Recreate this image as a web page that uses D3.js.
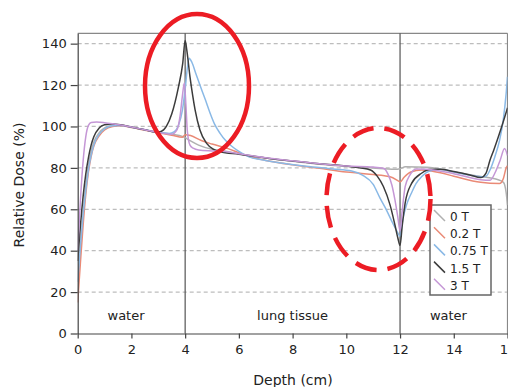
<!DOCTYPE html>
<html>
<head>
<meta charset="utf-8">
<script src="https://cdn.jsdelivr.net/npm/d3@7"></script>
<style>
  body { margin: 0; background: #fff; }
  svg { font-family: "DejaVu Sans", sans-serif; }
</style>
</head>
<body>
<script>
// dose curves, [depth cm, relative dose %]
const dose0T = [[0,20],[0.1,40],[0.2,57],[0.3,71],[0.4,81],[0.5,88],[0.6,92.5],[0.8,97],[1.0,99.3],[1.3,100.5],[1.6,100.6],[2,99.6],[2.5,98.4],[3,97.3],[3.5,96.2],[3.9,95.2],[4.0,94.6],[4.2,93],[4.5,91],[5,89],[5.5,88],[6,86.8],[7,84.8],[8,83.2],[9,81.8],[10,80.8],[11,79.9],[11.8,79.3],[12,79.6],[12.2,80.5],[13,80.3],[14,78],[15,75.8],[15.6,74.5],[15.85,73],[15.95,68],[16,62]];
const dose02T = [[0,15],[0.1,34],[0.2,52],[0.3,67],[0.4,78],[0.5,85.5],[0.6,90.5],[0.8,95.5],[1.0,98.3],[1.3,100],[1.6,100.4],[2,99.5],[2.5,98.2],[3,97],[3.5,95.8],[3.9,94.8],[4.0,96],[4.2,95.6],[4.6,93.2],[5,91.5],[5.6,89.3],[6,87.3],[6.5,85],[7,83.6],[8,81.5],[9,79.8],[10,78],[10.5,77.4],[11,76.8],[11.6,75.8],[11.9,74],[12,73.2],[12.15,75.5],[12.4,78],[12.8,79],[13.5,77.6],[14,76],[15,73],[15.7,72.4],[15.85,75],[15.95,80],[16,81]];
const dose075T = [[0,25],[0.1,42],[0.2,57],[0.3,69],[0.4,79],[0.5,86],[0.6,91],[0.8,96.2],[1.0,98.8],[1.3,100.3],[1.6,100.5],[2,99.6],[2.5,98.4],[3,97.2],[3.4,96.6],[3.6,97.5],[3.75,100.5],[3.9,108],[4.0,118],[4.08,128],[4.15,133],[4.25,131],[4.4,125.5],[4.55,120],[4.75,113],[4.93,106.4],[5.1,101],[5.3,96.7],[5.5,93.3],[5.7,90.8],[6,88],[6.4,85.2],[6.8,84],[7.5,82.5],[8.5,80.8],[9.5,79.5],[10.2,78.5],[10.6,76.5],[11,72],[11.25,65.5],[11.5,59.5],[11.7,54],[11.88,49.5],[12,47],[12.1,55],[12.25,62.5],[12.43,68],[12.6,72.5],[12.8,75.7],[13.1,78.5],[13.5,79.2],[14,78],[14.6,76.5],[15,75.7],[15.2,76],[15.35,79],[15.53,85.4],[15.7,93],[15.84,103],[15.95,116],[16,124]];
const dose15T = [[0,35],[0.1,52],[0.2,66],[0.3,77],[0.4,85],[0.5,91],[0.6,95],[0.8,99.3],[1.0,100.8],[1.3,101.2],[1.6,100.8],[2,99.7],[2.5,98.4],[2.9,97.3],[3.1,97.6],[3.3,100],[3.5,106],[3.75,119],[3.91,130.5],[4.0,141.5],[4.06,137],[4.18,124],[4.28,115],[4.37,108],[4.55,98.3],[4.8,91.8],[5.05,89],[5.3,87.8],[6,86.6],[7,84.8],[8,83.3],[9,82],[9.8,81.2],[10.5,80],[10.9,79],[11.15,76],[11.38,71],[11.63,62],[11.81,52.4],[11.92,46],[12,42.5],[12.08,52],[12.19,63],[12.43,72.5],[12.8,77.4],[13.1,79.2],[13.5,79.3],[14,78.2],[14.6,76.6],[15,75.3],[15.2,77.5],[15.35,83.8],[15.5,89],[15.66,95],[15.9,104.7],[16,109]];
const dose3T = [[0,40],[0.05,52],[0.1,64],[0.2,83],[0.3,95],[0.4,100.5],[0.5,101.9],[0.7,102.1],[1.0,101.8],[1.3,101.3],[1.6,100.7],[2,99.7],[2.5,98.4],[3,97.1],[3.5,96.3],[3.7,98.5],[3.81,105],[3.9,115],[3.97,121],[4.03,110],[4.08,98],[4.18,91],[4.3,89.5],[4.5,88.6],[5,88.2],[5.4,88],[6,86.8],[7,84.9],[8,83.4],[9,82],[10,80.9],[11,80.4],[11.38,79.8],[11.55,77],[11.7,71.5],[11.81,64.5],[11.92,56],[12,49.5],[12.07,58],[12.19,70.9],[12.37,76.6],[12.6,79.5],[13,79.3],[14,77.2],[15,74.3],[15.35,74],[15.55,78],[15.73,83.8],[15.89,89.4],[16,86]];

const seriesNames = ["0 T", "0.2 T", "0.75 T", "1.5 T", "3 T"];
const seriesData = [dose0T, dose02T, dose075T, dose15T, dose3T];
const seriesColors = ["#b0b0b0", "#ea8a76", "#8ab9e6", "#3c3c3c", "#c597d6"];

const xTicks = [0, 2, 4, 6, 8, 10, 12, 14, 16];
const yTicks = [0, 20, 40, 60, 80, 100, 120, 140];
const interfaces = [4, 12];
const regionNames = ["water", "lung tissue", "water"];
const regionLabelDepth = [1.8, 8, 13.8];

const w = 508, h = 387;
const x = d3.scaleLinear().domain([0, 16]).range([77.7, 507.5]);
const y = d3.scaleLinear().domain([0, 145]).range([333.5, 33.3]);

const svg = d3.select("body").append("svg")
    .attr("width", w)
    .attr("height", h);

svg.append("clipPath").attr("id", "plot")
  .append("rect")
    .attr("x", x(0)).attr("y", y(145))
    .attr("width", x(16) - x(0)).attr("height", y(0) - y(145));

// grid
svg.append("g")
  .selectAll("line")
  .data(yTicks.filter(d => d > 0))
  .enter().append("line")
    .attr("x1", x(0)).attr("x2", x(16))
    .attr("y1", d => y(d)).attr("y2", d => y(d))
    .attr("stroke", "#bdbdbd")
    .attr("stroke-width", 1.3)
    .attr("stroke-dasharray", "4,3");

// frame top/right
svg.append("line")
    .attr("x1", x(0)).attr("x2", x(16)).attr("y1", y(145)).attr("y2", y(145))
    .attr("stroke", "#888").attr("stroke-width", 1.2);
svg.append("line")
    .attr("x1", x(16)).attr("x2", x(16)).attr("y1", y(145)).attr("y2", y(0))
    .attr("stroke", "#888").attr("stroke-width", 1.2);

// interfaces
svg.append("g")
  .selectAll("line")
  .data(interfaces)
  .enter().append("line")
    .attr("x1", d => x(d)).attr("x2", d => x(d))
    .attr("y1", y(145)).attr("y2", y(0))
    .attr("stroke", "#555").attr("stroke-width", 1.2);

svg.append("g")
  .selectAll("text")
  .data(regionNames)
  .enter().append("text")
    .attr("x", (d, i) => x(regionLabelDepth[i]))
    .attr("y", 320)
    .attr("text-anchor", "middle")
    .attr("font-size", "13px")
    .attr("fill", "#222")
    .text(d => d);

// curves
const line = d3.line()
    .x(d => x(d[0]))
    .y(d => y(d[1]))
    .curve(d3.curveMonotoneX);

svg.append("g")
    .attr("clip-path", "url(#plot)")
  .selectAll("path")
  .data(seriesData)
  .enter().append("path")
    .attr("d", line)
    .attr("fill", "none")
    .attr("stroke", (d, i) => seriesColors[i])
    .attr("stroke-width", 1.5);

// axes
const yAxis = svg.append("g")
    .attr("transform", `translate(${x(0)},0)`)
    .call(d3.axisLeft(y).tickValues(yTicks).tickSize(7).tickSizeOuter(0).tickPadding(4));
const xAxis = svg.append("g")
    .attr("transform", `translate(0,${y(0)})`)
    .call(d3.axisBottom(x).tickValues(xTicks).tickSize(5).tickSizeOuter(0).tickPadding(6));
[yAxis, xAxis].forEach(a => {
  a.selectAll("text").attr("font-family", "DejaVu Sans").attr("font-size", "13px").attr("fill", "#222");
  a.selectAll("line, path").attr("stroke", "#444").attr("stroke-width", 1.2);
});

svg.append("text")
    .attr("transform", "translate(24,185) rotate(-90)")
    .attr("text-anchor", "middle")
    .attr("font-size", "14px")
    .attr("fill", "#222")
    .text("Relative Dose (%)");

svg.append("text")
    .attr("x", 293)
    .attr("y", 385)
    .attr("text-anchor", "middle")
    .attr("font-size", "14px")
    .attr("fill", "#222")
    .text("Depth (cm)");

// legend
const legend = svg.append("g").attr("id", "legend");
legend.append("rect")
    .attr("x", 430).attr("y", 205)
    .attr("width", 61).attr("height", 90)
    .attr("fill", "#fff")
    .attr("stroke", "#666").attr("stroke-width", 1.5);
seriesNames.forEach((name, i) => {
  const yy = 216 + i * 17.2;
  legend.append("line")
      .attr("x1", 434).attr("y1", yy - 6)
      .attr("x2", 445).attr("y2", yy + 5)
      .attr("stroke", seriesColors[i]).attr("stroke-width", 1.5);
  legend.append("text")
      .attr("x", 450).attr("y", yy + 5)
      .attr("font-size", "12px")
      .attr("fill", "#222")
      .text(name);
});

// red annotations
svg.append("ellipse")
    .attr("cx", 197).attr("cy", 86).attr("rx", 52).attr("ry", 72)
    .attr("fill", "none").attr("stroke", "#ec1c24").attr("stroke-width", 4.5);
svg.append("ellipse")
    .attr("cx", 378.5).attr("cy", 199).attr("rx", 52).attr("ry", 71)
    .attr("fill", "none").attr("stroke", "#ec1c24").attr("stroke-width", 4.5)
    .attr("stroke-dasharray", "22,11");
</script>
</body>
</html>
